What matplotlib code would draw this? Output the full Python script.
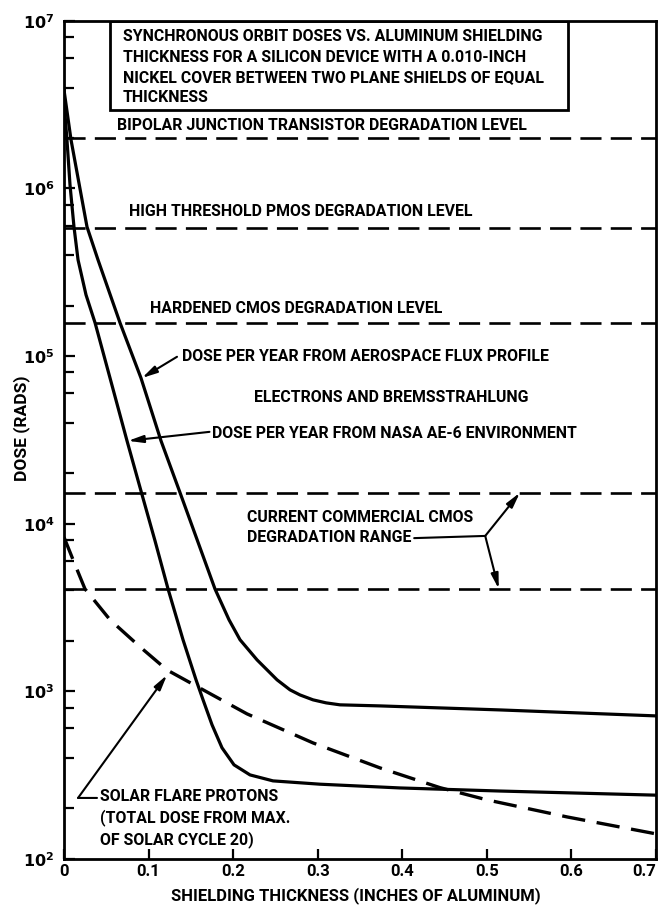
import matplotlib
matplotlib.use("Agg")
import matplotlib.pyplot as plt
from matplotlib.patches import Rectangle
from matplotlib.ticker import FixedLocator, NullFormatter

plt.rcParams['font.family'] = ['Roboto', 'DejaVu Sans']
plt.rcParams['font.weight'] = 'bold'

# shielding thickness (inches Al) and dose (rads)
nasa_x = [0, 0.0012, 0.0035, 0.0071, 0.0118, 0.0166, 0.026, 0.0367, 0.0544, 0.0745,
          0.0916, 0.1076, 0.123, 0.1407, 0.1561, 0.1644, 0.175, 0.1868, 0.201, 0.2199,
          0.2471, 0.3027, 0.3973, 0.5155, 0.7]
nasa_dose = [3.87e6, 2.75e6, 1.95e6, 1.05e6, 5.9e5, 3.75e5, 2.32e5, 1.58e5, 7.4e4, 3.12e4,
             1.53e4, 7.9e3, 4.08e3, 2.03e3, 1.17e3, 889, 631, 460, 364, 317,
             292, 279, 265, 254, 240]

aero_x = [0, 0.0083, 0.0272, 0.0402, 0.0662, 0.091, 0.1147, 0.1372, 0.1785, 0.1951,
          0.2081, 0.2282, 0.2519, 0.2672, 0.279, 0.2944, 0.3098, 0.3263, 0.3736, 0.5155, 0.7]
aero_dose = [3.87e6, 1.95e6, 5.9e5, 3.75e5, 1.58e5, 7.4e4, 3.12e4, 1.53e4, 4.08e3, 2.67e3,
             2.03e3, 1.54e3, 1.17e3, 1.02e3, 951, 889, 853, 830, 818, 774, 713]

solar_x = [0, 0.013, 0.0248, 0.0544, 0.0899, 0.1218, 0.169, 0.2164, 0.2944, 0.3736,
           0.4446, 0.5, 0.5947, 0.7]
solar_dose = [8.3e3, 5.7e3, 4.08e3, 2.67e3, 1.84e3, 1.34e3, 991, 733, 492, 349,
              266, 225, 178, 141]

# degradation levels (rads)
bipolar_level = 2.0e6
pmos_level = 5.8e5
hardened_level = 1.58e5
commercial_range = [1.53e4, 4.08e3]

xticks = [0, 0.1, 0.2, 0.3, 0.4, 0.5, 0.6, 0.7]
xtick_labels = ['0', '0.1', '0.2', '0.3', '0.4', '0.5', '0.6', '0.7']
yticks = [1e2, 1e3, 1e4, 1e5, 1e6, 1e7]
ytick_labels = ['$\\mathbf{10^{2}}$', '$\\mathbf{10^{3}}$', '$\\mathbf{10^{4}}$',
                '$\\mathbf{10^{5}}$', '$\\mathbf{10^{6}}$', '$\\mathbf{10^{7}}$']

fig = plt.figure(figsize=(6.66, 9.06), dpi=100)
ax = fig.add_axes([0.0961, 0.052, 0.889, 0.925])
ax.set_yscale('log')
ax.set_xlim(0, 0.7)
ax.set_ylim(1e2, 1e7)

dash = (8, 3.5)
for lvl in [bipolar_level, pmos_level, hardened_level] + commercial_range:
    ax.axhline(lvl, color='black', lw=1.9, dashes=dash)

ax.plot(nasa_x, nasa_dose, color='black', lw=2.3, solid_joinstyle='round')
ax.plot(aero_x, aero_dose, color='black', lw=2.3, solid_joinstyle='round')
ax.plot(solar_x, solar_dose, color='black', lw=2.4, dashes=(7, 3.5))

for s in ax.spines.values():
    s.set_linewidth(2.0)

ax.set_xticks(xticks)
ax.set_xticklabels(xtick_labels)
ax.set_yticks(yticks)
ax.set_yticklabels(ytick_labels)
minors = [m * 10 ** e for e in range(2, 7) for m in (2, 4, 6, 8)]
ax.yaxis.set_minor_locator(FixedLocator(minors))
ax.yaxis.set_minor_formatter(NullFormatter())
ax.xaxis.set_minor_locator(FixedLocator([]))
ax.tick_params(axis='both', which='both', direction='in', width=1.6)
ax.tick_params(axis='y', which='major', length=8, labelsize=11.5, pad=7)
ax.tick_params(axis='y', which='minor', length=7)
ax.tick_params(axis='x', which='major', length=7, labelsize=12, pad=4)
ax.get_xticklabels()[-1].set_ha('right')

fs = 11.4
tkw = dict(transform=ax.transAxes, fontsize=fs, fontweight='bold', va='center', ha='left')

# title box
ax.add_patch(Rectangle((0.0777, 0.894), 0.851 - 0.0777, 0.106, transform=ax.transAxes,
                       fill=False, lw=2.0, ec='black', zorder=3))
title_lines = ['SYNCHRONOUS ORBIT DOSES VS. ALUMINUM SHIELDING',
               'THICKNESS FOR A SILICON DEVICE WITH A 0.010-INCH',
               'NICKEL COVER BETWEEN TWO PLANE SHIELDS OF EQUAL',
               'THICKNESS']
for i, line in enumerate(title_lines):
    ax.text(0.0997, 0.981 - i * 0.0243, line, **tkw)

ax.text(0.0895, 0.875, 'BIPOLAR JUNCTION TRANSISTOR DEGRADATION LEVEL', **tkw)
ax.text(0.110, 0.772, 'HIGH THRESHOLD PMOS DEGRADATION LEVEL', **tkw)
ax.text(0.145, 0.657, 'HARDENED CMOS DEGRADATION LEVEL', **tkw)
ax.text(0.199, 0.599, 'DOSE PER YEAR FROM AEROSPACE FLUX PROFILE', **tkw)
ax.text(0.321, 0.551, 'ELECTRONS AND BREMSSTRAHLUNG', **tkw)
ax.text(0.250, 0.508, 'DOSE PER YEAR FROM NASA AE-6 ENVIRONMENT', **tkw)
ax.text(0.309, 0.407, 'CURRENT COMMERCIAL CMOS', **tkw)
ax.text(0.309, 0.383, 'DEGRADATION RANGE', **tkw)
ax.text(0.061, 0.074, 'SOLAR FLARE PROTONS', **tkw)
ax.text(0.061, 0.049, '(TOTAL DOSE FROM MAX.', **tkw)
ax.text(0.061, 0.023, 'OF SOLAR CYCLE 20)', **tkw)

arrow = dict(arrowstyle='-|>,head_length=0.9,head_width=0.22', color='black', lw=1.5,
             shrinkA=0, shrinkB=0)
plain = dict(arrowstyle='-', color='black', lw=1.5, shrinkA=0, shrinkB=0)

ax.annotate('', xy=(0.0922, 7.4e4), xytext=(0.1336, 9.9e4), arrowprops=arrow)
ax.annotate('', xy=(0.0757, 3.12e4), xytext=(0.172, 3.53e4), arrowprops=arrow)

ax.annotate('', xy=(0.498, 8.45e3), xytext=(0.414, 8.2e3), arrowprops=plain)
ax.annotate('', xy=(0.539, 1.53e4), xytext=(0.498, 8.45e3), arrowprops=arrow)
ax.annotate('', xy=(0.514, 4.08e3), xytext=(0.498, 8.45e3), arrowprops=arrow)

ax.annotate('', xy=(0.0166, 231), xytext=(0.039, 231), arrowprops=plain)
ax.annotate('', xy=(0.1218, 1.25e3), xytext=(0.0166, 231), arrowprops=arrow)

ax.text(-0.071, 0.514, 'DOSE (RADS)', transform=ax.transAxes, rotation=90,
        fontsize=12.5, fontweight='bold', ha='center', va='center')
ax.text(0.493, -0.044, 'SHIELDING THICKNESS (INCHES OF ALUMINUM)', transform=ax.transAxes,
        fontsize=12, fontweight='bold', ha='center', va='center')

fig.savefig('out.png', dpi=100)
